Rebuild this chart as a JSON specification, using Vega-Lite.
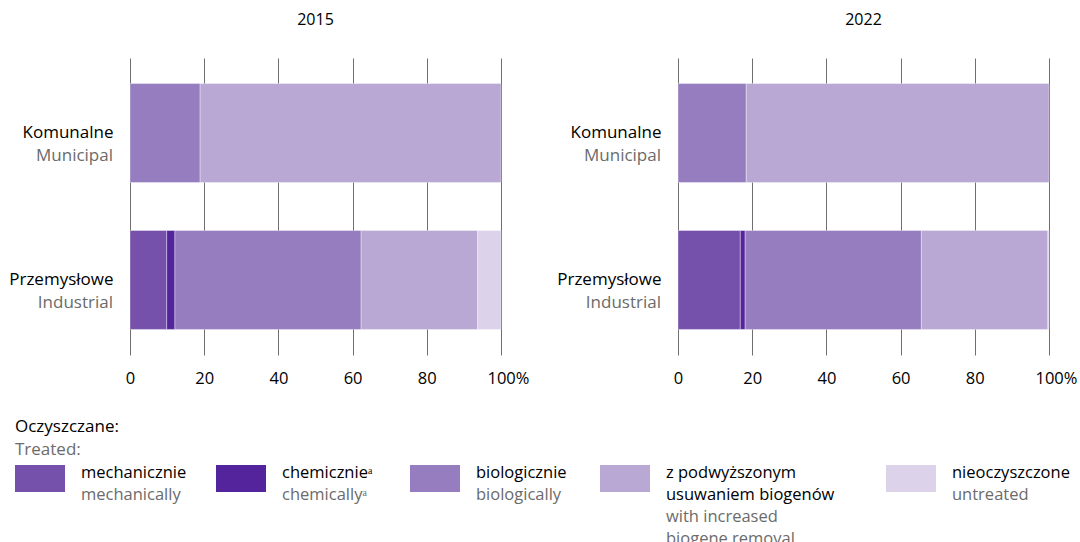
{
  "$schema": "https://vega.github.io/schema/vega-lite/v6.json",
  "padding": {"left": 8, "top": 12, "right": 0, "bottom": 0},
  "background": "white",
  "config": {"font": "Open Sans", "view": {"stroke": null}},
  "datasets": {
    "bars": [
      {"year": "2015", "type": "Komunalne", "en": "Municipal", "cat": "biologicznie", "k": 3, "value": 18.9},
      {"year": "2015", "type": "Komunalne", "en": "Municipal", "cat": "z podwyższonym usuwaniem biogenów", "k": 4, "value": 81.1},
      {"year": "2015", "type": "Przemysłowe", "en": "Industrial", "cat": "mechanicznie", "k": 1, "value": 9.9},
      {"year": "2015", "type": "Przemysłowe", "en": "Industrial", "cat": "chemicznie", "k": 2, "value": 2.2},
      {"year": "2015", "type": "Przemysłowe", "en": "Industrial", "cat": "biologicznie", "k": 3, "value": 50.2},
      {"year": "2015", "type": "Przemysłowe", "en": "Industrial", "cat": "z podwyższonym usuwaniem biogenów", "k": 4, "value": 31.4},
      {"year": "2015", "type": "Przemysłowe", "en": "Industrial", "cat": "nieoczyszczone", "k": 5, "value": 6.3},
      {"year": "2022", "type": "Komunalne", "en": "Municipal", "cat": "biologicznie", "k": 3, "value": 18.4},
      {"year": "2022", "type": "Komunalne", "en": "Municipal", "cat": "z podwyższonym usuwaniem biogenów", "k": 4, "value": 81.6},
      {"year": "2022", "type": "Przemysłowe", "en": "Industrial", "cat": "mechanicznie", "k": 1, "value": 16.8},
      {"year": "2022", "type": "Przemysłowe", "en": "Industrial", "cat": "chemicznie", "k": 2, "value": 1.3},
      {"year": "2022", "type": "Przemysłowe", "en": "Industrial", "cat": "biologicznie", "k": 3, "value": 47.5},
      {"year": "2022", "type": "Przemysłowe", "en": "Industrial", "cat": "z podwyższonym usuwaniem biogenów", "k": 4, "value": 34.1},
      {"year": "2022", "type": "Przemysłowe", "en": "Industrial", "cat": "nieoczyszczone", "k": 5, "value": 0.3}
    ],
    "legend": [
      {"cat": "mechanicznie", "pl": ["mechanicznie"], "en": ["mechanically"]},
      {"cat": "chemicznie", "pl": ["chemicznieᵃ"], "en": ["chemicallyᵃ"]},
      {"cat": "biologicznie", "pl": ["biologicznie"], "en": ["biologically"]},
      {"cat": "z podwyższonym usuwaniem biogenów", "pl": ["z podwyższonym", "usuwaniem biogenów"], "en": ["with increased", "biogene removal"]},
      {"cat": "nieoczyszczone", "pl": ["nieoczyszczone"], "en": ["untreated"]}
    ]
  },
  "spacing": 30,
  "vconcat": [
    {
      "data": {"name": "bars"},
      "facet": {"column": {"field": "year", "type": "ordinal", "header": {"title": null, "labelFontSize": 16, "labelColor": "#000", "labelPadding": 30}}},
      "spacing": 54,
      "resolve": {"axis": {"y": "independent"}},
      "spec": {
        "width": 371,
        "height": 297,
        "layer": [
          {
            "mark": {"type": "bar", "stroke": "#ffffff", "strokeWidth": 0.6, "strokeOpacity": 0.6},
            "encoding": {
              "y": {"field": "type", "type": "nominal", "sort": ["Komunalne", "Przemysłowe"], "scale": {"paddingInner": 0.327, "paddingOuter": 0.174},
                "axis": {"title": null, "domain": false, "ticks": false, "labelPadding": 17, "labelFontSize": 17, "labelColor": "#000", "minExtent": 115, "maxExtent": 115}},
              "x": {"field": "value", "type": "quantitative", "stack": "zero", "scale": {"domain": [0, 100], "nice": false},
                "axis": {"title": null, "values": [0, 20, 40, 60, 80, 100], "grid": true, "gridColor": "#6f6f6f", "gridWidth": 1, "domain": false, "ticks": false, "labelPadding": 15, "labelFontSize": 16.5, "labelColor": "#000",
                  "labelExpr": "datum.value == 100 ? '100%' : datum.label",
                  "labelAlign": {"condition": {"test": "datum.value == 100", "value": "left"}, "value": "center"},
                  "labelOffset": {"condition": {"test": "datum.value == 100", "value": -14}, "value": 0}}},
              "color": {"field": "cat", "type": "nominal", "legend": null,
                "scale": {"domain": ["mechanicznie", "chemicznie", "biologicznie", "z podwyższonym usuwaniem biogenów", "nieoczyszczone"],
                  "range": ["#7551ab", "#53249b", "#967dbf", "#b9a7d4", "#dcd2ea"]}},
              "order": {"field": "k", "type": "quantitative"}
            }
          },
          {
            "transform": [{"filter": "datum.cat == 'biologicznie'"}],
            "mark": {"type": "text", "align": "right", "baseline": "middle", "dx": -17, "dy": 23, "fontSize": 17, "color": "#6b6b6b"},
            "encoding": {
              "y": {"field": "type", "type": "nominal", "sort": ["Komunalne", "Przemysłowe"]},
              "x": {"datum": 0, "type": "quantitative"},
              "text": {"field": "en", "type": "nominal"}
            }
          }
        ]
      }
    },
    {
      "title": {"text": "Oczyszczane:", "subtitle": "Treated:", "anchor": "start", "fontSize": 17, "fontWeight": "normal", "color": "#000", "subtitleFontSize": 17, "subtitleColor": "#6b6b6b", "subtitlePadding": 6, "offset": 6},
      "bounds": "flush",
      "spacing": 0,
      "hconcat": [
        {
          "data": {"name": "legend"}, "transform": [{"filter": "datum.cat == 'mechanicznie'"}],
          "width": 201, "height": 27,
          "encoding": {
            "x": {"field": "cat", "type": "nominal", "scale": {"range": [-115, -65], "paddingInner": 0, "paddingOuter": 0}, "axis": null},
            "y": {"field": "cat", "type": "nominal", "scale": {"paddingInner": 0, "paddingOuter": 0}, "axis": null}
          },
          "layer": [
            {"mark": {"type": "rect"}, "encoding": {"color": {"field": "cat", "type": "nominal", "legend": null}}},
            {"mark": {"type": "text", "align": "left", "baseline": "top", "dx": 41, "dy": -14, "fontSize": 16.5, "lineHeight": 22, "color": "#000"}, "encoding": {"text": {"field": "pl", "type": "nominal"}}},
            {"mark": {"type": "text", "align": "left", "baseline": "top", "dx": 41, "dy": 8, "fontSize": 16.5, "lineHeight": 22, "color": "#6b6b6b"}, "encoding": {"text": {"field": "en", "type": "nominal"}}}
          ]
        },
        {
          "data": {"name": "legend"}, "transform": [{"filter": "datum.cat == 'chemicznie'"}],
          "width": 194, "height": 27,
          "encoding": {
            "x": {"field": "cat", "type": "nominal", "scale": {"range": [-115, -65], "paddingInner": 0, "paddingOuter": 0}, "axis": null},
            "y": {"field": "cat", "type": "nominal", "scale": {"paddingInner": 0, "paddingOuter": 0}, "axis": null}
          },
          "layer": [
            {"mark": {"type": "rect"}, "encoding": {"color": {"field": "cat", "type": "nominal", "legend": null}}},
            {"mark": {"type": "text", "align": "left", "baseline": "top", "dx": 41, "dy": -14, "fontSize": 16.5, "lineHeight": 22, "color": "#000"}, "encoding": {"text": {"field": "pl", "type": "nominal"}}},
            {"mark": {"type": "text", "align": "left", "baseline": "top", "dx": 41, "dy": 8, "fontSize": 16.5, "lineHeight": 22, "color": "#6b6b6b"}, "encoding": {"text": {"field": "en", "type": "nominal"}}}
          ]
        },
        {
          "data": {"name": "legend"}, "transform": [{"filter": "datum.cat == 'biologicznie'"}],
          "width": 190, "height": 27,
          "encoding": {
            "x": {"field": "cat", "type": "nominal", "scale": {"range": [-115, -65], "paddingInner": 0, "paddingOuter": 0}, "axis": null},
            "y": {"field": "cat", "type": "nominal", "scale": {"paddingInner": 0, "paddingOuter": 0}, "axis": null}
          },
          "layer": [
            {"mark": {"type": "rect"}, "encoding": {"color": {"field": "cat", "type": "nominal", "legend": null}}},
            {"mark": {"type": "text", "align": "left", "baseline": "top", "dx": 41, "dy": -14, "fontSize": 16.5, "lineHeight": 22, "color": "#000"}, "encoding": {"text": {"field": "pl", "type": "nominal"}}},
            {"mark": {"type": "text", "align": "left", "baseline": "top", "dx": 41, "dy": 8, "fontSize": 16.5, "lineHeight": 22, "color": "#6b6b6b"}, "encoding": {"text": {"field": "en", "type": "nominal"}}}
          ]
        },
        {
          "data": {"name": "legend"}, "transform": [{"filter": "datum.cat == 'z podwyższonym usuwaniem biogenów'"}],
          "width": 286, "height": 27,
          "encoding": {
            "x": {"field": "cat", "type": "nominal", "scale": {"range": [-115, -65], "paddingInner": 0, "paddingOuter": 0}, "axis": null},
            "y": {"field": "cat", "type": "nominal", "scale": {"paddingInner": 0, "paddingOuter": 0}, "axis": null}
          },
          "layer": [
            {"mark": {"type": "rect"}, "encoding": {"color": {"field": "cat", "type": "nominal", "legend": null}}},
            {"mark": {"type": "text", "align": "left", "baseline": "top", "dx": 41, "dy": -14, "fontSize": 16.5, "lineHeight": 22, "color": "#000"}, "encoding": {"text": {"field": "pl", "type": "nominal"}}},
            {"mark": {"type": "text", "align": "left", "baseline": "top", "dx": 41, "dy": 30, "fontSize": 16.5, "lineHeight": 22, "color": "#6b6b6b"}, "encoding": {"text": {"field": "en", "type": "nominal"}}}
          ]
        },
        {
          "data": {"name": "legend"}, "transform": [{"filter": "datum.cat == 'nieoczyszczone'"}],
          "width": 60, "height": 27,
          "encoding": {
            "x": {"field": "cat", "type": "nominal", "scale": {"range": [-115, -65], "paddingInner": 0, "paddingOuter": 0}, "axis": null},
            "y": {"field": "cat", "type": "nominal", "scale": {"paddingInner": 0, "paddingOuter": 0}, "axis": null}
          },
          "layer": [
            {"mark": {"type": "rect"}, "encoding": {"color": {"field": "cat", "type": "nominal", "legend": null}}},
            {"mark": {"type": "text", "align": "left", "baseline": "top", "dx": 41, "dy": -14, "fontSize": 16.5, "lineHeight": 22, "color": "#000"}, "encoding": {"text": {"field": "pl", "type": "nominal"}}},
            {"mark": {"type": "text", "align": "left", "baseline": "top", "dx": 41, "dy": 8, "fontSize": 16.5, "lineHeight": 22, "color": "#6b6b6b"}, "encoding": {"text": {"field": "en", "type": "nominal"}}}
          ]
        }
      ]
    }
  ]
}
